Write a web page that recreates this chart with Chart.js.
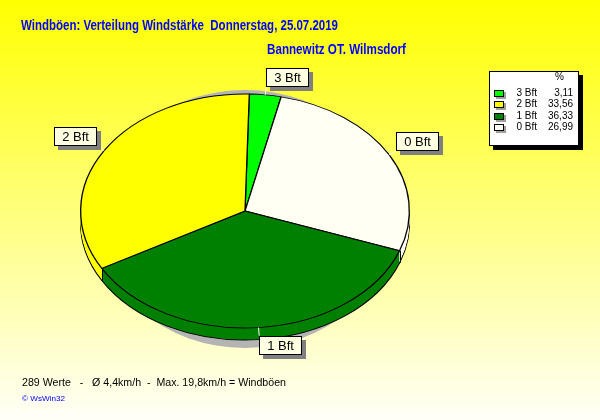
<!DOCTYPE html>
<html>
<head>
<meta charset="utf-8">
<script src="https://cdn.jsdelivr.net/npm/chart.js@4"></script>
<style>
  html, body { margin: 0; padding: 0; background: #fff; }
  #wrap { width: 600px; height: 420px; position: relative; }
</style>
</head>
<body>
<div id="wrap"><canvas id="c" width="600" height="420"></canvas></div>
<script>
// ---- data (clockwise drawing order, starting near 12 o'clock) ----
const categories = ['3 Bft', '0 Bft', '1 Bft', '2 Bft'];
const percentValues = [3.11, 26.99, 36.33, 33.56];
const titleText = 'Windböen: Verteilung Windstärke  Donnerstag, 25.07.2019';
const subtitleText = 'Bannewitz OT. Wilmsdorf';
const footerText = '289 Werte   -   Ø 4,4km/h  -  Max. 19,8km/h = Windböen';
const creditText = '© WsWin32';
const legendHeader = '%';

// ---- styles ----
const sliceColors = { '3 Bft': '#00FF00', '2 Bft': '#FFFF00', '1 Bft': '#008000', '0 Bft': '#FFFFF4' };
const DEPTH = 12;     // px of the 3D side
const RY = 117;       // vertical semi-axis of the top face

function fmt(v) { return v.toFixed(2).replace('.', ','); }

function drawArcWith(arc, ctx, opts) {
  const p = Object.create(arc);
  p.options = Object.assign({}, arc.options, opts);
  arc.draw.call(p, ctx);
}
function xform(ctx, cx, cy, k, dy) {
  ctx.translate(cx, cy + dy);
  ctx.scale(1, k);
  ctx.translate(-cx, -cy);
}
function fitText(ctx, text, x, y, font, color, targetW) {
  ctx.save();
  ctx.font = font;
  const w = ctx.measureText(text).width;
  ctx.translate(x, y);
  ctx.scale(targetW / w, 1);
  ctx.fillStyle = color;
  ctx.textBaseline = 'alphabetic';
  ctx.textAlign = 'left';
  ctx.fillText(text, 0, 0);
  ctx.restore();
}

const pie3d = {
  id: 'pie3d',
  beforeDraw(chart) {
    const ctx = chart.ctx;
    const g = ctx.createLinearGradient(0, 0, 0, chart.height);
    g.addColorStop(0, '#FFFF00');
    g.addColorStop(1, '#FFFFF8');
    ctx.save();
    ctx.fillStyle = g;
    ctx.fillRect(0, 0, chart.width, chart.height);
    ctx.restore();
  },
  beforeDatasetsDraw(chart) {
    const ctx = chart.ctx;
    const meta = chart.getDatasetMeta(0);
    const a0 = meta.data[0];
    const cx = a0.x, cy = a0.y, R = a0.outerRadius;
    const k = RY / R;
    // shadow
    ctx.save();
    ctx.fillStyle = '#B4B4B4';
    ctx.beginPath();
    ctx.ellipse(cx, cy + 8, 148, 129, 0, 0, Math.PI * 2);
    ctx.fill();
    ctx.restore();
    // side: bottom outline then filled layers
    ctx.save();
    xform(ctx, cx, cy, k, DEPTH);
    meta.data.forEach(arc => drawArcWith(arc, ctx, { borderWidth: 1.3 }));
    ctx.restore();
    for (let d = DEPTH - 1; d >= 1; d--) {
      ctx.save();
      xform(ctx, cx, cy, k, d);
      meta.data.forEach(arc => drawArcWith(arc, ctx, { borderWidth: 0 }));
      ctx.restore();
    }
    // vertical edges on the side at slice boundaries (front half)
    ctx.save();
    ctx.strokeStyle = '#000';
    ctx.lineWidth = 1;
    meta.data.forEach(arc => {
      const a = arc.startAngle;
      if (Math.sin(a) > 0.02) {
        const px = Math.round(cx + R * Math.cos(a)) + 0.5;
        const py = cy + RY * Math.sin(a);
        ctx.beginPath();
        ctx.moveTo(px, py);
        ctx.lineTo(px, py + DEPTH);
        ctx.stroke();
      }
    });
    ctx.restore();
    // top face transform (restored after datasets draw)
    ctx.save();
    xform(ctx, cx, cy, k, 0);
  },
  afterDatasetsDraw(chart) {
    chart.ctx.restore();
  },
  afterDraw(chart) {
    const ctx = chart.ctx;
    const meta = chart.getDatasetMeta(0);
    const a0 = meta.data[0];
    const cx = a0.x, cy = a0.y, R = a0.outerRadius;

    // slice labels
    ctx.save();
    ctx.font = '13px "Liberation Sans", Arial, sans-serif';
    meta.data.forEach((arc, i) => {
      const a = (arc.startAngle + arc.endAngle) / 2;
      const rx = cx + R * Math.cos(a), ry = cy + RY * Math.sin(a);
      const s = Math.cos(a), c = -Math.sin(a); // screen: s>0 right, c>0 up
      const bx0 = rx + 8 * s, by0 = ry - 8 * c;
      const tw = ctx.measureText(categories[i]).width;
      const bw = Math.round(tw + 16), bh = 19;
      const left = Math.round(s >= 0 ? bx0 : bx0 - bw);
      const top = Math.round(c >= 0 ? by0 - bh : by0);
      // leader
      ctx.strokeStyle = '#FFFFFF';
      ctx.lineWidth = 1;
      ctx.beginPath();
      ctx.moveTo(rx, ry);
      ctx.lineTo(bx0, by0);
      ctx.stroke();
      // box shadow
      ctx.fillStyle = '#808080';
      ctx.fillRect(left + 4, top + 4, bw, bh);
      ctx.fillStyle = '#FFFFE1';
      ctx.fillRect(left, top, bw, bh);
      ctx.strokeStyle = '#000';
      ctx.strokeRect(left + 0.5, top + 0.5, bw - 1, bh - 1);
      ctx.fillStyle = '#000';
      ctx.textBaseline = 'alphabetic';
      ctx.textAlign = 'center';
      ctx.fillText(categories[i], left + bw / 2, top + 14);
    });
    ctx.restore();

    // legend box
    ctx.save();
    ctx.fillStyle = '#000';
    ctx.fillRect(493, 75, 90, 75);
    ctx.fillStyle = '#FFFFFF';
    ctx.fillRect(489, 71, 90, 75);
    ctx.strokeStyle = '#000';
    ctx.lineWidth = 1;
    ctx.strokeRect(489.5, 71.5, 89, 74);
    ctx.font = '10px "Liberation Sans", Arial, sans-serif';
    ctx.fillStyle = '#000';
    ctx.textAlign = 'center';
    ctx.fillText(legendHeader, 559.5, 80);
    const order = categories.map((c, i) => i).sort((p, q) => parseInt(categories[q]) - parseInt(categories[p]));
    order.forEach((idx, r) => {
      const base = 95.5 + r * 11.6;
      const sy = Math.round(base - 6);
      ctx.fillStyle = '#A0A0A0';
      ctx.fillRect(496, sy + 2, 10, 7);
      ctx.fillStyle = sliceColors[categories[idx]];
      ctx.fillRect(494, sy, 10, 7);
      ctx.strokeStyle = '#000';
      ctx.strokeRect(494.5, sy + 0.5, 9, 6);
      ctx.fillStyle = '#000';
      ctx.textAlign = 'left';
      ctx.fillText(categories[idx], 516.5, base);
      ctx.textAlign = 'right';
      ctx.fillText(fmt(percentValues[idx]), 573, base);
    });
    ctx.restore();

    // texts
    fitText(ctx, titleText, 21, 30, 'bold 14px "Liberation Sans Narrow", "Liberation Sans", Arial, sans-serif', '#0000FF', 317);
    fitText(ctx, subtitleText, 267, 54, 'bold 14px "Liberation Sans Narrow", "Liberation Sans", Arial, sans-serif', '#0000FF', 139);
    fitText(ctx, footerText, 22, 386, '11px "Liberation Sans", Arial, sans-serif', '#000000', 264);
    fitText(ctx, creditText, 22, 401, '8px "Liberation Sans", Arial, sans-serif', '#0000FF', 43);
  }
};

new Chart(document.getElementById('c'), {
  type: 'pie',
  data: {
    labels: categories,
    datasets: [{
      data: percentValues,
      backgroundColor: categories.map(c => sliceColors[c]),
      borderColor: '#000000',
      borderWidth: 1.3
    }]
  },
  options: {
    responsive: false,
    animation: false,
    events: [],
    rotation: 1.5,
    layout: { padding: { left: 80, right: 190, top: 46, bottom: 44 } },
    plugins: {
      legend: { display: false },
      tooltip: { enabled: false },
      title: { display: false }
    }
  },
  plugins: [pie3d]
});
</script>
</body>
</html>
